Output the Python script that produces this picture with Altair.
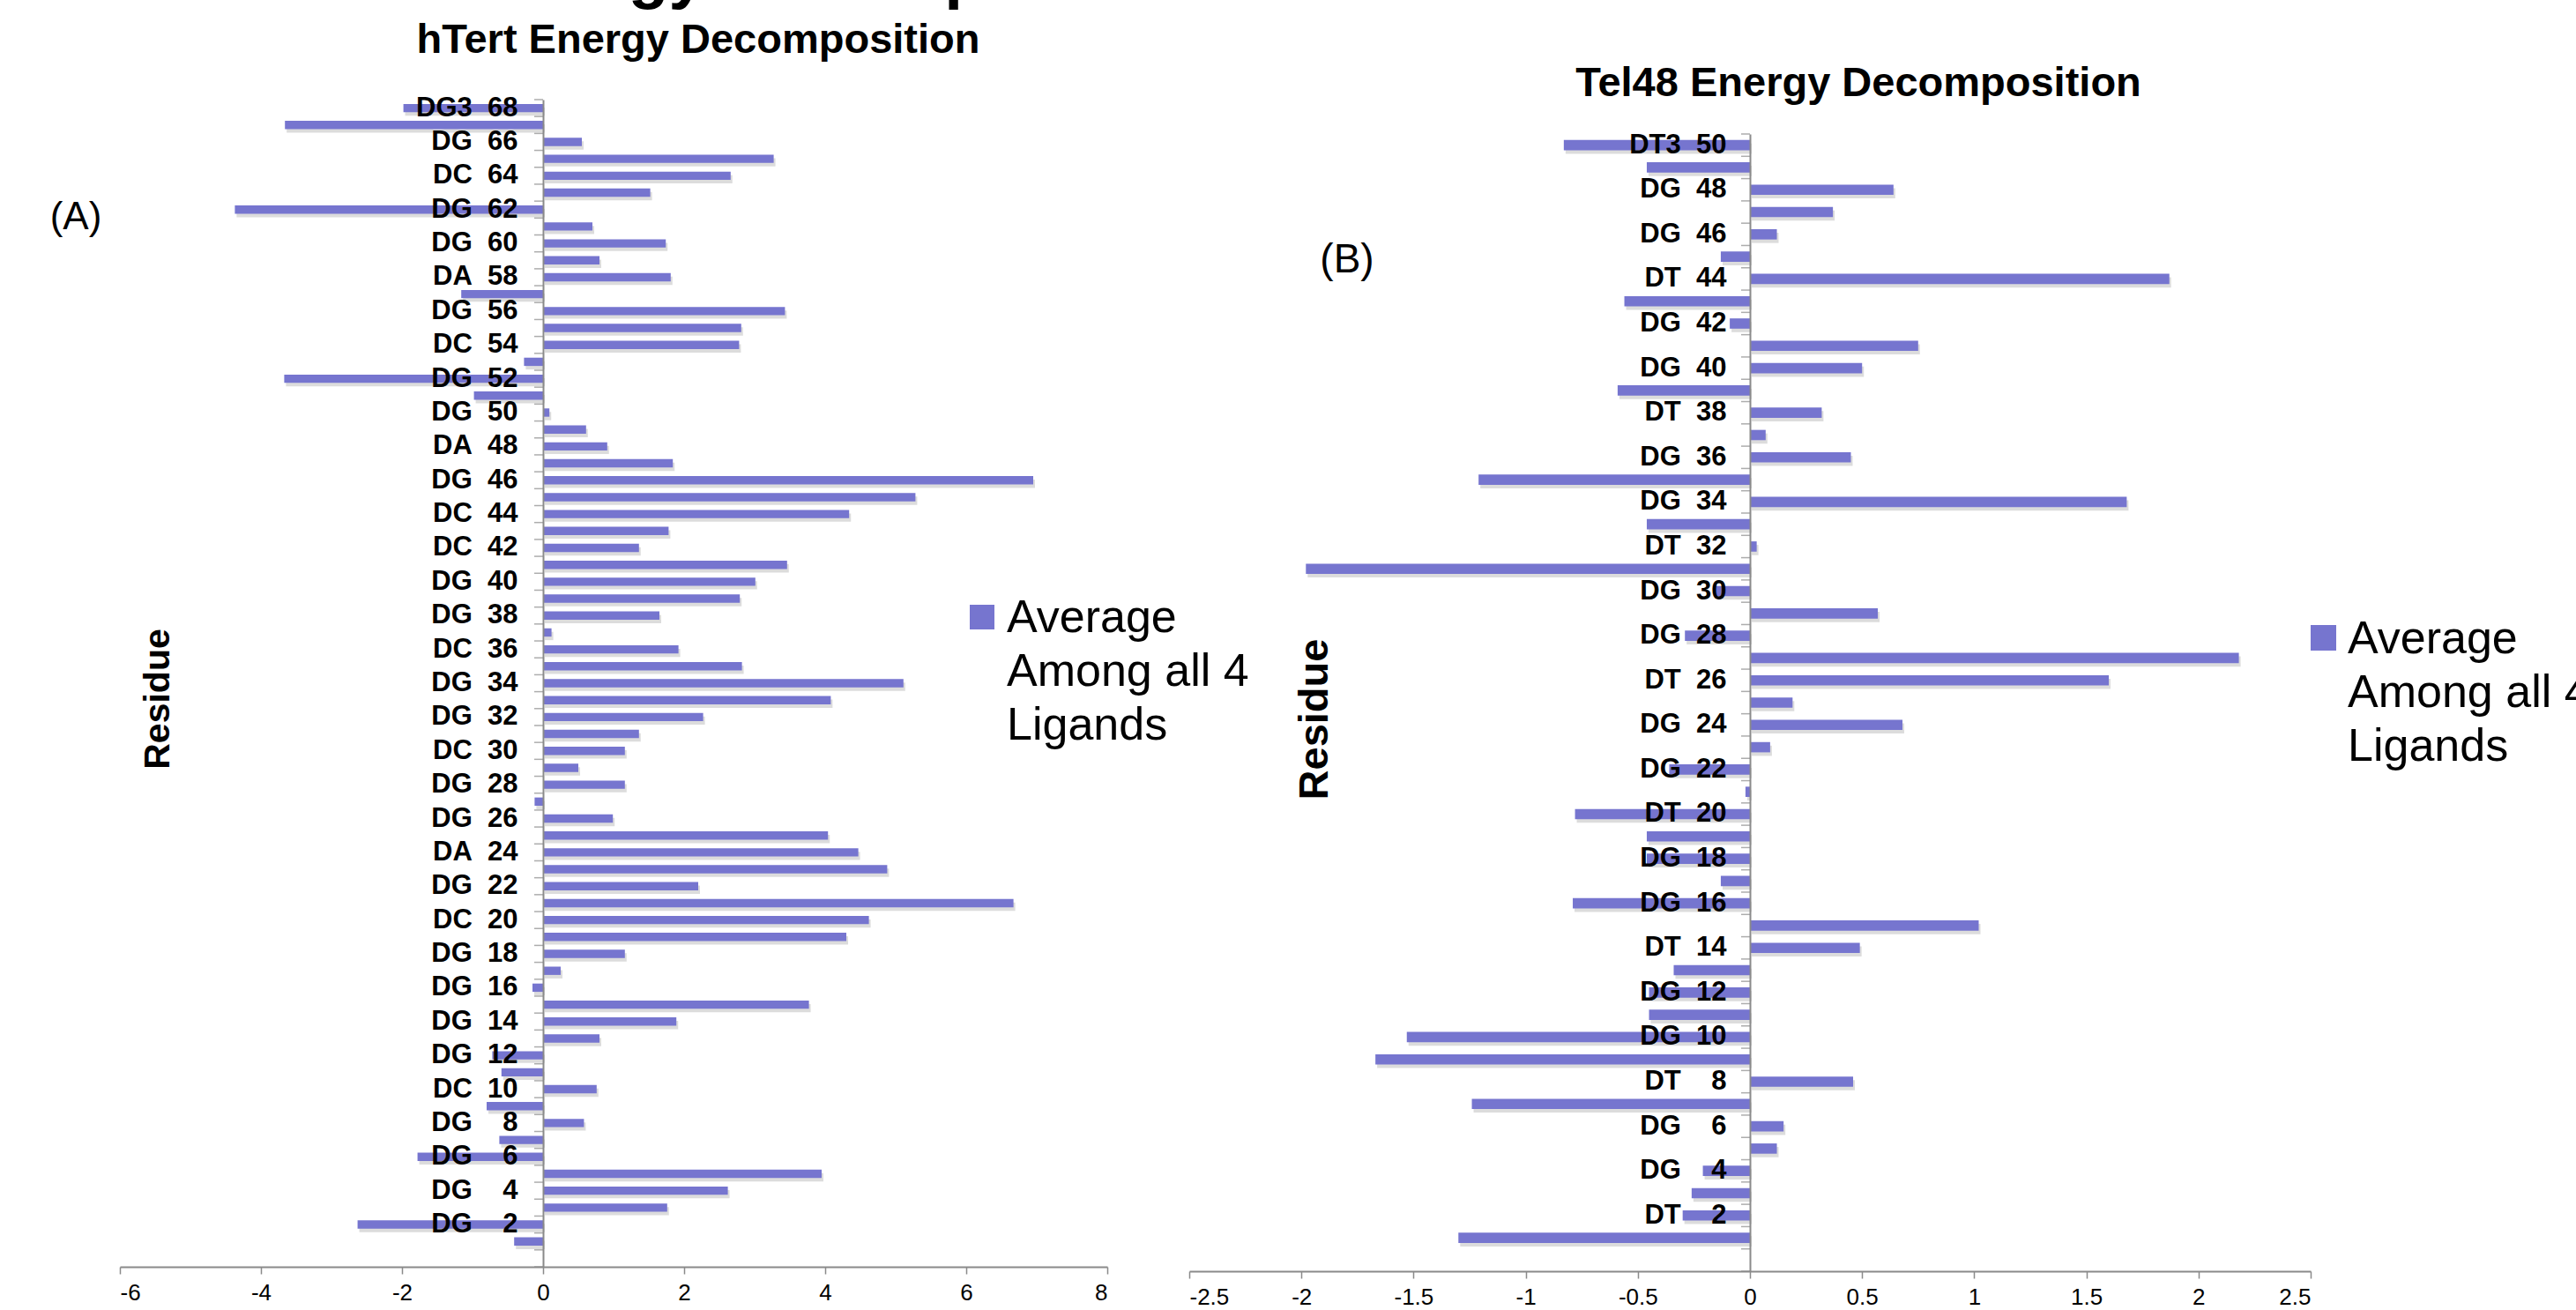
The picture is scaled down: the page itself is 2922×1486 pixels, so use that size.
import json
import altair as alt
import pandas as pd

FONT = "Liberation Sans"
BAR = "#7675cf"
AXC = "#8a8a8a"
NB = "\u00a0"

# ---------------- hTert data (residue 68 -> 1) ----------------
H_RESIDUES = list(range(68, 0, -1))
H_VALUES = [-1.98, -3.66, 0.55, 3.27, 2.66, 1.52, -4.37, 0.70, 1.74, 0.80,
            1.81, -1.16, 3.43, 2.81, 2.78, -0.27, -3.67, -0.98, 0.09, 0.61,
            0.91, 1.84, 6.95, 5.28, 4.34, 1.78, 1.36, 3.46, 3.01, 2.79,
            1.65, 0.12, 1.92, 2.82, 5.11, 4.08, 2.27, 1.36, 1.16, 0.50,
            1.16, -0.12, 0.99, 4.04, 4.47, 4.88, 2.20, 6.67, 4.62, 4.30,
            1.16, 0.25, -0.15, 3.77, 1.89, 0.80, -0.72, -0.59, 0.76, -0.80,
            0.58, -0.62, -1.78, 3.95, 2.62, 1.76, -2.63, -0.41]
H_LABEL_RES = list(range(68, 0, -2))
H_LABEL_NAMES = ["DG3", "DG", "DC", "DG", "DG", "DA", "DG", "DC", "DG", "DG",
                 "DA", "DG", "DC", "DC", "DG", "DG", "DC", "DG", "DG", "DC",
                 "DG", "DG", "DA", "DG", "DC", "DG", "DG", "DG", "DG", "DC",
                 "DG", "DG", "DG", "DG"]
H_XTICKS = [-6, -4, -2, 0, 2, 4, 6, 8]

# ---------------- Tel48 data (residue 50 -> 1) ----------------
T_RESIDUES = list(range(50, 0, -1))
T_VALUES = [-0.83, -0.46, 0.64, 0.37, 0.12, -0.13, 1.87, -0.56, -0.09, 0.75,
            0.50, -0.59, 0.32, 0.07, 0.45, -1.21, 1.68, -0.46, 0.03, -1.98,
            -0.15, 0.57, -0.29, 2.18, 1.60, 0.19, 0.68, 0.09, -0.36, -0.02,
            -0.78, -0.46, -0.46, -0.13, -0.79, 1.02, 0.49, -0.34, -0.45, -0.45,
            -1.53, -1.67, 0.46, -1.24, 0.15, 0.12, -0.21, -0.26, -0.30, -1.30]
T_LABEL_RES = list(range(50, 0, -2))
T_LABEL_NAMES = ["DT3", "DG", "DG", "DT", "DG", "DG", "DT", "DG", "DG", "DT",
                 "DG", "DG", "DT", "DG", "DG", "DT", "DG", "DG", "DT", "DG",
                 "DG", "DT", "DG", "DG", "DT"]
T_XTICKS = [-2.5, -2, -1.5, -1, -0.5, 0, 0.5, 1, 1.5, 2, 2.5]

LEGEND_TEXT = "Average\nAmong all 4\nLigands"
SUPER_TITLE = "Energy Decomposition"


def label_array(residues, label_res, names):
    lab = {}
    for r, n in zip(label_res, names):
        pad = NB * 2 if r >= 10 else NB * 4
        lab[r] = f"{n}{pad}{r}"
    return [lab.get(r, "") for r in residues]


def panel(residues, values, label_res, names, xticks, cfg):
    top = residues[0]
    domain = [str(r) for r in residues] + ["0"]  # extra blank slot at bottom
    df = pd.DataFrame({"res": [str(r) for r in residues], "value": values})
    labels = label_array(residues, label_res, names)
    label_expr = (json.dumps(labels, ensure_ascii=False)
                  + f"[{top} - toNumber(datum.value)] || ''")

    xd, xr, yr = cfg["xdomain"], cfg["xrange"], cfg["yrange"]
    x0 = xr[0] + (0 - xd[0]) / (xd[1] - xd[0]) * (xr[1] - xr[0])
    step = (yr[1] - yr[0]) / len(domain)

    xscale = alt.Scale(domain=xd, range=xr, nice=False)
    yscale = alt.Scale(domain=domain, range=yr, paddingInner=0, paddingOuter=0)

    xaxis = alt.Axis(values=xticks, grid=False, title=None,
                     labelExpr="'' + datum.value",
                     domainColor=AXC, domainWidth=2, tickColor=AXC,
                     tickWidth=1.5, tickSize=8, labelFont=FONT,
                     labelFontSize=26, labelColor="black", labelPadding=8,
                     offset=-(cfg["h"] - yr[1]), zindex=1)
    yaxis = alt.Axis(orient="left", offset=-x0, ticks=False, grid=False,
                     title=None, labelExpr=label_expr, domainColor=AXC,
                     domainWidth=2, labelFont=FONT, labelFontWeight="bold",
                     labelFontSize=cfg["ylab_size"], labelColor="black",
                     labelPadding=10 + cfg["ylab_pad"], labelOverlap=False,
                     labelLimit=0, zindex=1)

    X = alt.X("value:Q", scale=xscale, axis=xaxis)
    Y = alt.Y("res:N", scale=yscale, axis=yaxis)

    shadow = alt.Chart(df).mark_bar(
        color="#9a9a9a", opacity=0.35, xOffset=2, yOffset=4,
        height={"band": cfg["bar_band"]}).encode(x=X, y=Y)
    bars = alt.Chart(df).mark_bar(
        color=BAR, height={"band": cfg["bar_band"]}).encode(x=X, y=Y)

    # category-boundary ticks on the zero axis (Excel style)
    tick_df = pd.DataFrame({"res": domain})
    XD = alt.XDatum(0, scale=xscale, axis=xaxis)
    ticks_low = alt.Chart(tick_df).mark_tick(
        orient="horizontal", size=10, thickness=1.5, color=AXC,
        xOffset=-5, yOffset=step / 2).encode(x=XD, y=Y)
    ticks_top = alt.Chart(tick_df.iloc[:1]).mark_tick(
        orient="horizontal", size=10, thickness=1.5, color=AXC,
        xOffset=-5, yOffset=-step / 2).encode(x=XD, y=Y)

    title = alt.Chart(pd.DataFrame({"t": [cfg["title"]]})).mark_text(
        font=FONT, fontWeight="bold", fontSize=47, align="center",
        baseline="alphabetic", color="black").encode(
        text="t:N", x=alt.value(cfg["title_x"]), y=alt.value(cfg["title_y"]))

    tag = alt.Chart(pd.DataFrame({"t": [cfg["tag"]]})).mark_text(
        font=FONT, fontSize=cfg["tag_size"], align="center", baseline="middle",
        color="black").encode(
        text="t:N", x=alt.value(cfg["tag_x"]), y=alt.value(cfg["tag_y"]))

    ytitle = alt.Chart(pd.DataFrame({"t": ["Residue"]})).mark_text(
        font=FONT, fontWeight="bold", fontSize=cfg["res_size"], angle=270,
        align="center", baseline="middle", color="black").encode(
        text="t:N", x=alt.value(cfg["res_x"]), y=alt.value(cfg["res_y"]))

    lx, ly = cfg["leg_sq"]
    sq = cfg["leg_sz"]
    leg_sq = alt.Chart(pd.DataFrame({"k": [1]})).mark_rect(color=BAR).encode(
        x=alt.value(lx), x2=alt.value(lx + sq),
        y=alt.value(ly), y2=alt.value(ly + sq))
    leg_txt = alt.Chart(pd.DataFrame({"t": [LEGEND_TEXT]})).mark_text(
        font=FONT, fontSize=52, lineBreak="\n", lineHeight=61, align="left",
        baseline="alphabetic", color="black", clip=cfg["leg_clip"]).encode(
        text="t:N", x=alt.value(cfg["leg_tx"]), y=alt.value(cfg["leg_ty"]))

    layers = [shadow, bars, ticks_low, ticks_top, title, tag, ytitle,
              leg_sq, leg_txt]
    if cfg.get("super"):
        sup = alt.Chart(pd.DataFrame({"t": [cfg["super"]]})).mark_text(
            font=FONT, fontWeight="bold", fontSize=75, align="left",
            baseline="alphabetic", color="black", clip=True).encode(
            text="t:N", x=alt.value(cfg["super_x"]), y=alt.value(cfg["super_y"]))
        layers.append(sup)
    return alt.layer(*layers).properties(width=cfg["w"], height=cfg["h"])


left_cfg = dict(
    w=1300, h=1486, xdomain=[-6, 8], xrange=[136, 1256], yrange=[113, 1437],
    ylab_size=31, ylab_pad=19, bar_band=0.49,
    title="hTert Energy Decomposition", title_x=792, title_y=60,
    tag="(A)", tag_size=44, tag_x=86, tag_y=247,
    res_size=41, res_x=180, res_y=793,
    leg_sq=(1100, 686), leg_sz=28, leg_tx=1142, leg_ty=717, leg_clip=False,
    super=SUPER_TITLE, super_x=546, super_y=-4,
)
right_cfg = dict(
    w=1622, h=1486, xdomain=[-2.5, 2.5], xrange=[49, 1321], yrange=[152, 1442],
    ylab_size=31, ylab_pad=17, bar_band=0.46,
    title="Tel48 Energy Decomposition", title_x=808, title_y=109,
    tag="(B)", tag_size=46, tag_x=228, tag_y=295,
    res_size=47, res_x=192, res_y=816,
    leg_sq=(1321, 709), leg_sz=29, leg_tx=1363, leg_ty=741, leg_clip=True,
)

left = panel(H_RESIDUES, H_VALUES, H_LABEL_RES, H_LABEL_NAMES, H_XTICKS, left_cfg)
right = panel(T_RESIDUES, T_VALUES, T_LABEL_RES, T_LABEL_NAMES, T_XTICKS, right_cfg)

chart = alt.hconcat(left, right, spacing=0, bounds="flush").properties(
    padding=0, background="white"
).configure_view(stroke=None)

chart.save("out.html", embed_options={"renderer": "svg", "actions": False})
